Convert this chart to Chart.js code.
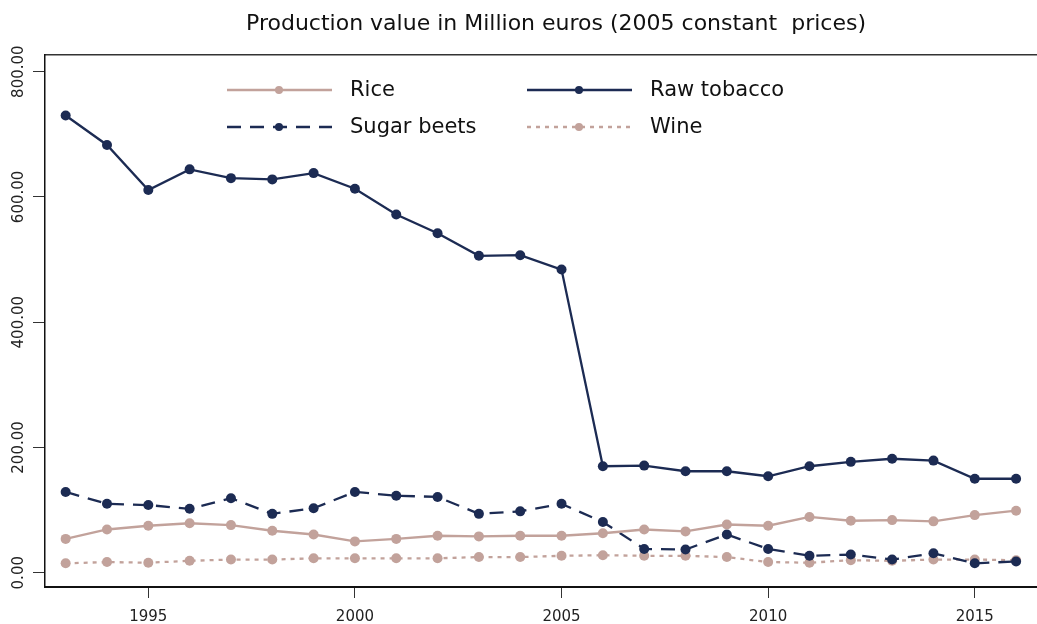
<!DOCTYPE html>
<html>
<head>
<meta charset="utf-8">
<script src="https://cdn.jsdelivr.net/npm/chart.js@4.4.1/dist/chart.umd.min.js"></script>
<style>
    html, body { margin: 0; padding: 0; background: #fff; overflow: hidden; }
    #wrap { width: 1037px; height: 624px; overflow: hidden; }
    canvas { display: block; }
</style>
</head>
<body>
<div id="wrap"><canvas id="chart" width="1112" height="624"></canvas></div>
<script>
const years = [1993, 1994, 1995, 1996, 1997, 1998, 1999, 2000, 2001, 2002, 2003, 2004,
               2005, 2006, 2007, 2008, 2009, 2010, 2011, 2012, 2013, 2014, 2015, 2016];
const rice = [54, 69, 75, 79, 76, 67, 61, 50, 54, 59, 58, 59, 59, 63, 69, 66, 77, 75, 89, 83, 84, 82, 92, 99];
const rawTobacco = [730, 683, 611, 644, 630, 628, 638, 613, 572, 542, 506, 507, 484, 170, 171, 162, 162, 154, 170, 177, 182, 179, 150, 150];
const sugarBeets = [129, 110, 108, 102, 119, 94, 103, 129, 123, 121, 94, 98, 110, 81, 38, 37, 61, 38, 27, 29, 21, 31, 15, 18];
const wine = [15, 17, 16, 19, 21, 21, 23, 23, 23, 23, 25, 25, 27, 28, 27, 27, 25, 17, 16, 20, 19, 21, 21, 20];

const xTicks = [1995, 2000, 2005, 2010, 2015];
const yTicks = [0, 200, 400, 600, 800];

const navy = '#1c2b53';
const rose = '#c2a29b';
const font = '"DejaVu Sans", Verdana, sans-serif';

const toPoints = (vals) => vals.map((v, i) => ({ x: years[i], y: v }));

const makeSeries = (label, vals, color, dash) => ({
    label: label,
    data: toPoints(vals),
    borderColor: color,
    backgroundColor: color,
    pointBackgroundColor: color,
    borderWidth: 2.3,
    borderDash: dash,
    pointRadius: 5,
    pointBorderWidth: 0,
    pointHoverRadius: 5,
    tension: 0
});

// legende dessinee dans la zone du graphique, 2 colonnes
const legendCols = [227, 527];
const legendRows = [90, 127];
const insideLegend = {
    id: 'insideLegend',
    afterDraw(chart) {
        const ctx = chart.ctx;
        chart.data.datasets.forEach((ds, i) => {
            const x = legendCols[i % 2];
            const y = legendRows[Math.floor(i / 2)];
            ctx.save();
            ctx.strokeStyle = ds.borderColor;
            ctx.lineWidth = ds.borderWidth;
            ctx.setLineDash(ds.borderDash || []);
            ctx.beginPath();
            ctx.moveTo(x, y);
            ctx.lineTo(x + 105, y);
            ctx.stroke();
            ctx.setLineDash([]);
            ctx.fillStyle = ds.pointBackgroundColor;
            ctx.beginPath();
            ctx.arc(x + 52, y, 4, 0, Math.PI * 2);
            ctx.fill();
            ctx.font = '21px ' + font;
            ctx.fillStyle = '#111';
            ctx.textBaseline = 'middle';
            ctx.fillText(ds.label, x + 123, y + 1);
            ctx.restore();
        });
    }
};

new Chart(document.getElementById('chart'), {
    type: 'line',
    data: {
        datasets: [
            makeSeries('Rice', rice, rose, []),
            makeSeries('Raw tobacco', rawTobacco, navy, []),
            makeSeries('Sugar beets', sugarBeets, navy, [14, 9]),
            makeSeries('Wine', wine, rose, [4, 5])
        ]
    },
    options: {
        responsive: false,
        animation: false,
        layout: { padding: 0 },
        plugins: {
            legend: { display: false },
            tooltip: { enabled: false },
            title: {
                display: true,
                text: 'Production value in Million euros (2005 constant  prices)',
                color: '#111',
                font: { family: font, size: 22, weight: 'normal', lineHeight: 1.2 },
                padding: { top: 11, bottom: 17.6 }
            }
        },
        scales: {
            x: {
                type: 'linear',
                position: 'bottom',
                min: 1992.5,
                max: 2018.2,
                afterBuildTicks: (scale) => { scale.ticks = xTicks.map(v => ({ value: v })); },
                afterFit: (scale) => { scale.height = 37; },
                grid: { drawOnChartArea: false, drawTicks: true, tickLength: 11, color: '#333', lineWidth: 1 },
                border: { display: true, color: '#111', width: 2 },
                ticks: {
                    color: '#222',
                    padding: 10,
                    maxRotation: 0,
                    font: { family: font, size: 15 },
                    callback: (v) => String(v)
                }
            },
            xTop: {
                type: 'linear',
                position: 'top',
                display: true,
                min: 1992.5,
                max: 2018.2,
                afterFit: (scale) => { scale.height = 0; },
                grid: { display: false, drawTicks: false },
                border: { display: true, color: '#333', width: 1.5 },
                ticks: { display: false }
            },
            y: {
                type: 'linear',
                position: 'left',
                min: -22.8,
                max: 826.6,
                afterBuildTicks: (scale) => { scale.ticks = yTicks.map(v => ({ value: v })); },
                afterFit: (scale) => { scale.width = 45; },
                grid: { drawOnChartArea: false, drawTicks: true, tickLength: 12, color: '#333', lineWidth: 1 },
                border: { display: true, color: '#111', width: 1.5 },
                ticks: {
                    color: '#222',
                    minRotation: 90,
                    maxRotation: 90,
                    crossAlign: 'center',
                    padding: -12,
                    font: { family: font, size: 15 },
                    callback: (v) => v.toFixed(2)
                }
            }
        }
    },
    plugins: [insideLegend]
});
</script>
</body>
</html>
